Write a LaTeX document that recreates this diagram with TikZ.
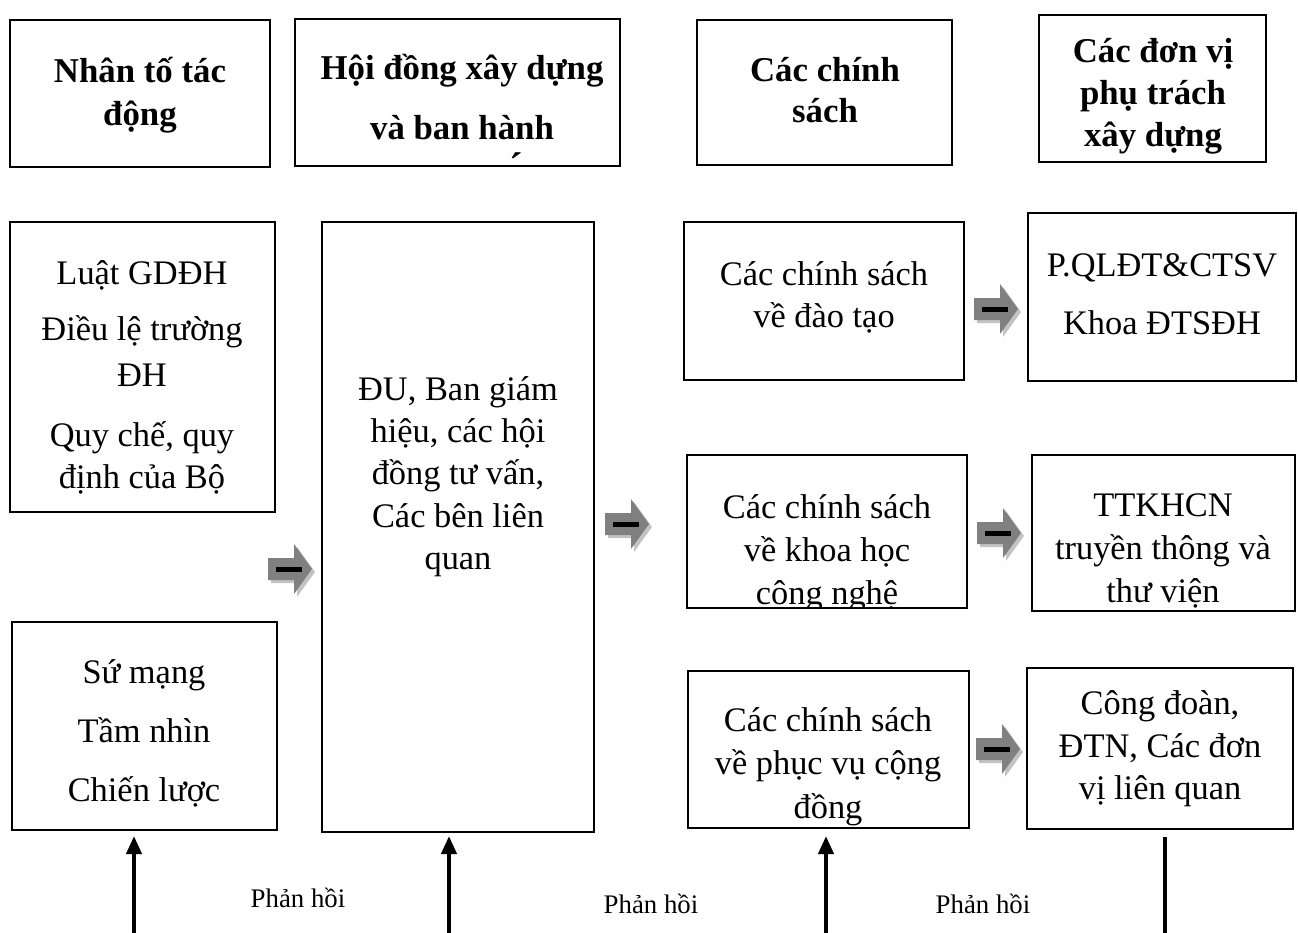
\documentclass[tikz,border=0pt]{standalone}
\usepackage{fontspec}
\setmainfont{Liberation Serif}
\usetikzlibrary{fit,arrows.meta}
\definecolor{agray}{RGB}{128,128,128}
\definecolor{ashade}{RGB}{195,195,195}
\begin{document}
\begin{tikzpicture}[x=0.5pt,y=-0.5pt,
  box/.style={draw, line width=1pt, inner sep=0pt},
  hd/.style={font=\fontsize{17.4}{21}\bfseries\selectfont, inner sep=0pt, anchor=base},
  tx/.style={font=\fontsize{17.2}{21}\selectfont, inner sep=0pt, anchor=base},
  fbk/.style={font=\fontsize{13.4}{16}\selectfont, inner sep=0pt, anchor=base},
  fb/.style={line width=2pt, -{Triangle[length=9pt,width=7.5pt]}},
  garrow/.pic={
    \fill[ashade] (3,-8) -- (29,-8) -- (29,-22) -- (47,3) -- (29,28) -- (29,14) -- (3,14) -- cycle;
    \fill[agray] (0,-11) -- (26,-11) -- (26,-25) -- (44,0) -- (26,25) -- (26,11) -- (0,11) -- cycle;
    \draw[line width=2.5pt] (8,0) -- (34,0);
  }]
\useasboundingbox (0,0) rectangle (1298,933);

% header boxes
\node[box, fit={(10,20) (270,167)}] (h1) {};
\node[box, fit={(295,19) (620,166)}] (h2) {};
\node[box, fit={(697,20) (952,165)}] (h3) {};
\node[box, fit={(1039,15) (1266,162)}] (h4) {};

\node[hd] (h1a) at (140,82) {Nhân tố tác};
\node[hd] (h1b) at (140,125) {động};
\node[hd] (h2a) at (462,79) {Hội đồng xây dựng};
\node[hd] (h2b) at (462,139) {và ban hành};
\node[hd, font=\fontsize{20}{21}\bfseries\selectfont] (h2c) at (516,180) {´};
\node[hd] (h3a) at (825,81) {Các chính};
\node[hd] (h3b) at (825,122) {sách};
\node[hd] (h4a) at (1153,62) {Các đơn vị};
\node[hd] (h4b) at (1153,104) {phụ trách};
\node[hd] (h4c) at (1153,146) {xây dựng};

% body boxes
\node[box, fit={(10,222) (275,512)}] (luat) {};
\node[box, fit={(322,222) (594,832)}] (hdong) {};
\node[box, fit={(12,622) (277,830)}] (sm) {};
\node[box, fit={(684,222) (964,380)}] (cs1) {};
\node[box, fit={(1028,213) (1296,381)}] (dv1) {};
\node[box, fit={(687,455) (967,608)}] (cs2) {};
\node[box, fit={(1032,455) (1295,611)}] (dv2) {};
\node[box, fit={(688,671) (969,828)}] (cs3) {};
\node[box, fit={(1027,668) (1293,829)}] (dv3) {};

% texts
\foreach \y/\t [count=\i] in {284/Luật GDĐH, 340/Điều lệ trường, 386/ĐH, 446/{Quy chế, quy}, 488/định của Bộ}
  \node[tx] (luat-\i) at (142,\y) {\t};
\foreach \y/\t [count=\i] in {400/{ĐU, Ban giám}, 442/{hiệu, các hội}, 484/{đồng tư vấn,}, 527/Các bên liên, 569/quan}
  \node[tx] (hdong-\i) at (458,\y) {\t};
\foreach \y/\t [count=\i] in {683/Sứ mạng, 742/Tầm nhìn, 801/Chiến lược}
  \node[tx] (sm-\i) at (144,\y) {\t};
\foreach \y/\t [count=\i] in {285/Các chính sách, 327/về đào tạo}
  \node[tx] (cs1-\i) at (824,\y) {\t};
\foreach \y/\t [count=\i] in {276/P.QLĐT\&CTSV, 334/Khoa ĐTSĐH}
  \node[tx] (dv1-\i) at (1162,\y) {\t};
\begin{scope}
  \clip (687,455) rectangle (967,608);
  \foreach \y/\t [count=\i] in {518/Các chính sách, 561/về khoa học, 604/công nghệ}
    \node[tx] (cs2-\i) at (827,\y) {\t};
\end{scope}
\begin{scope}
  \clip (1032,455) rectangle (1295,611);
  \foreach \y/\t [count=\i] in {516/TTKHCN, 559/truyền thông và, 602/thư viện}
    \node[tx] (dv2-\i) at (1163,\y) {\t};
\end{scope}
\begin{scope}
  \clip (688,671) rectangle (969,828);
  \foreach \y/\t [count=\i] in {731/Các chính sách, 774/về phục vụ cộng, 818/đồng}
    \node[tx] (cs3-\i) at (828,\y) {\t};
\end{scope}
\foreach \y/\t [count=\i] in {714/{Công đoàn,}, 757/{ĐTN, Các đơn}, 799/vị liên quan}
  \node[tx] (dv3-\i) at (1160,\y) {\t};

% block arrows
\pic (a1) at (268,569) {garrow};
\pic (a2) at (605,524) {garrow};
\pic (a3) at (974,309) {garrow};
\pic (a4) at (977,533) {garrow};
\pic (a5) at (976,749) {garrow};

% feedback arrows
\coordinate (b1) at (134,933);
\coordinate (b2) at (449,933);
\coordinate (b3) at (826,933);
\coordinate (b4) at (1165,933);
\draw[fb, shorten >=2.5pt] (b1) -- (b1 |- sm.south);
\draw[fb, shorten >=1.5pt] (b2) -- (b2 |- hdong.south);
\draw[fb, shorten >=3.5pt] (b3) -- (b3 |- cs3.south);
\draw[line width=2pt, shorten >=3.5pt] (b4) -- (b4 |- dv3.south);

\node[fbk] (p1) at (298,907) {Phản hồi};
\node[fbk] (p2) at (651,913) {Phản hồi};
\node[fbk] (p3) at (983,913) {Phản hồi};
\end{tikzpicture}
\end{document}
